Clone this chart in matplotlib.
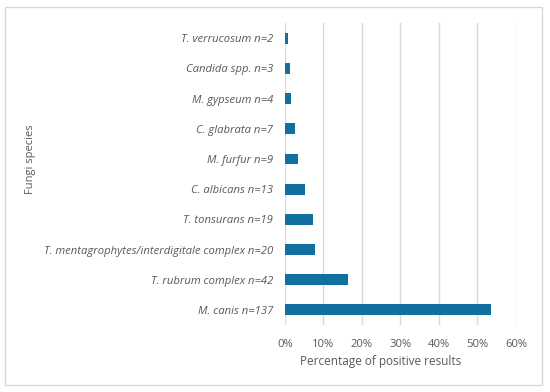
import matplotlib
matplotlib.use("Agg")
import matplotlib.pyplot as plt
from matplotlib.patches import Rectangle
from matplotlib.ticker import FuncFormatter

species = ["M. canis n=137", "T. rubrum complex n=42",
           "T. mentagrophytes/interdigitale complex n=20", "T. tonsurans n=19",
           "C. albicans n=13", "M. furfur n=9", "C. glabrata n=7",
           "M. gypseum n=4", "Candida spp. n=3", "T. verrucosum n=2"]
percent = [53.5, 16.4, 7.8, 7.4, 5.1, 3.5, 2.7, 1.6, 1.2, 0.8]
xticks = [0, 10, 20, 30, 40, 50, 60]

plt.rcParams['font.family'] = ['Open Sans', 'DejaVu Sans']
txt = '#595959'

fig = plt.figure(figsize=(5.5, 3.92), dpi=100)
ax = fig.add_axes([0.518, 0.171, 0.42, 0.770])

ax.barh(range(len(species)), percent, height=0.36, color='#1170a0', zorder=3)
ax.set_ylim(-0.5, len(species) - 0.5)
ax.set_xlim(0, 60)
ax.set_xticks(xticks)
ax.xaxis.set_major_formatter(FuncFormatter(lambda v, p: f"{v:.0f}%"))
ax.set_yticks(range(len(species)))
ax.set_yticklabels(species, fontstyle='italic')
ax.tick_params(axis='both', length=0, colors=txt, labelsize=8.1)
ax.tick_params(axis='y', pad=8.5)
ax.tick_params(axis='x', pad=10)
ax.grid(axis='x', color='#d9d9d9', linewidth=1, zorder=0)
for s in ax.spines.values():
    s.set_visible(False)

ax.set_xlabel("Percentage of positive results", color=txt, fontsize=8.5)
ax.xaxis.set_label_coords(0.416, -0.10)
fig.text(0.055, 0.594, "Fungi species", rotation=90, color=txt, fontsize=8,
         ha='center', va='center')

fig.patches.append(Rectangle((5/550, 7/392), 537/550, 1 - 14/392, transform=fig.transFigure,
                             fill=False, edgecolor='#d9d9d9', linewidth=1))

fig.savefig("out.png", dpi=100)
